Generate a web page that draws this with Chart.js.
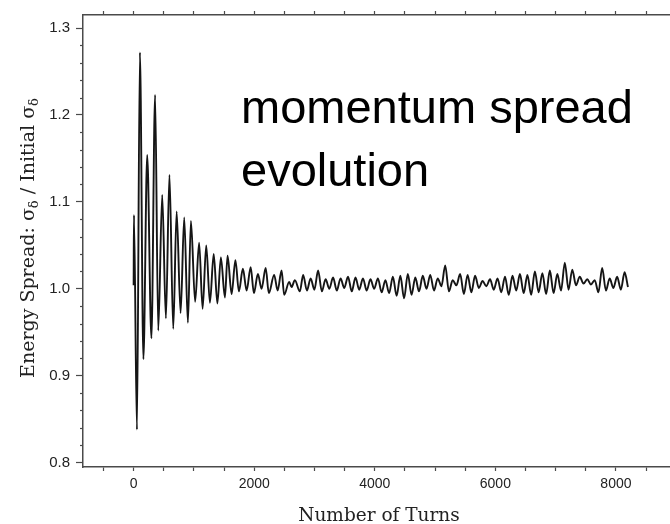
<!DOCTYPE html>
<html>
<head>
<meta charset="utf-8">
<script src="https://cdn.jsdelivr.net/npm/chart.js@4.4.1/dist/chart.umd.min.js"></script>
<style>
  html, body { margin: 0; padding: 0; background: #fff; overflow: hidden; }
  #wrap { width: 680px; height: 524px; position: relative; }
</style>
</head>
<body>
<div id="wrap"><canvas id="myChart"></canvas></div>
<script>
// values (turns, spread ratio)
var turns = [0, 5, 55, 104, 162, 225, 295, 356, 408, 474, 535, 594, 657, 713, 779, 839, 900, 950, 1020,
  1086, 1144, 1204, 1265, 1328, 1389, 1447, 1514, 1558, 1625, 1688, 1746, 1812, 1874, 1941, 1995,
  2061, 2122, 2190, 2243, 2331, 2388, 2454, 2497, 2580, 2620, 2674, 2757, 2812,
  2874, 2936, 2998, 3060, 3122, 3184, 3246, 3308, 3370, 3432, 3494, 3556, 3618, 3680, 3742, 3804,
  3866, 3928, 3990, 4052, 4114, 4176, 4238, 4300, 4362, 4424, 4486, 4548, 4610, 4672, 4734, 4796,
  4858, 4920, 4982, 5044, 5106, 5168, 5230, 5292, 5354, 5416, 5478, 5540, 5602, 5664, 5726, 5788,
  5850, 5912, 5974, 6036, 6098, 6160, 6222, 6284, 6346, 6408, 6470, 6532, 6594, 6656, 6718, 6780,
  6842, 6904, 6966, 7028, 7090, 7152, 7214, 7276, 7338, 7400, 7462, 7524, 7586, 7648, 7710, 7772,
  7834, 7896, 7958, 8020, 8082, 8144, 8200]
var spread = [1.004, 1.085, 0.838, 1.272, 0.919, 1.154, 0.943, 1.223, 0.952, 1.108, 0.966, 1.131, 0.954, 1.089, 0.972, 1.082, 0.961, 1.078, 0.985,
  1.053, 0.977, 1.050, 0.984, 1.040, 0.983, 1.036, 0.990, 1.038, 0.994, 1.033, 0.997, 1.023, 0.998, 1.025, 0.995,
  1.017, 1.000, 1.024, 0.995, 1.016, 0.998, 1.021, 0.993, 1.008, 1.002, 1.010, 0.997, 1.016,
  0.998, 1.012, 0.999, 1.021, 0.997, 1.011, 1.000, 1.013, 0.998, 1.012, 1.001, 1.014, 0.997, 1.013, 0.999, 1.012,
  0.998, 1.011, 1.000, 1.012, 0.996, 1.010, 0.995, 1.014, 0.992, 1.015, 0.989, 1.017, 0.993, 1.013, 0.997, 1.015,
  1.000, 1.016, 0.998, 1.012, 1.003, 1.027, 0.997, 1.010, 1.004, 1.017, 0.994, 1.016, 0.996, 1.015, 1.001, 1.009,
  1.003, 1.011, 0.999, 1.012, 0.996, 1.014, 0.993, 1.015, 0.998, 1.017, 0.995, 1.016, 0.993, 1.020, 0.996, 1.018,
  0.994, 1.021, 0.995, 1.017, 0.998, 1.030, 0.999, 1.022, 1.004, 1.014, 1.006, 1.011, 1.005, 1.010, 0.996, 1.024,
  0.998, 1.012, 1.001, 1.014, 0.999, 1.019, 1.002]

var xTickLabels = [0, 2000, 4000, 6000, 8000]
var yTickLabels = [0.8, 0.9, 1.0, 1.1, 1.2, 1.3]
var noteLines = ['momentum spread', 'evolution']

var axisColor = '#4a4a4a'
var textColor = '#222'

var points = []
for (var i = 0; i < turns.length; i++) {
    points.push({x: turns[i], y: spread[i]})
}

// x ticks every 500 turns, labels only on the listed values
function xTicks(scale) {
    var t = []
    for (var v = -500; v <= 8500; v += 500) t.push({value: v})
    scale.ticks = t
}

var xScaleBase = {
    type: 'linear',
    min: -840,
    max: 8980,
    afterBuildTicks: xTicks,
    grid: {drawOnChartArea: false, drawTicks: true, tickLength: 4, color: axisColor, tickWidth: 1.2},
    border: {display: true, color: axisColor, width: 1.5}
}

var extras = {
    id: 'extras',
    afterDraw: function(chart) {
        var ctx = chart.ctx
        var y = chart.scales.y
        var area = chart.chartArea
        ctx.save()
        // minor y ticks
        ctx.strokeStyle = axisColor
        ctx.lineWidth = 1.2
        for (var k = 0; k <= 25; k++) {
            if (k % 5 === 0) continue
            var py = Math.round(y.getPixelForValue(0.8 + k * 0.02)) + 0.5
            ctx.beginPath()
            ctx.moveTo(area.left - 3, py)
            ctx.lineTo(area.left, py)
            ctx.stroke()
        }
        // x title
        ctx.fillStyle = textColor
        ctx.font = '18.5px "DejaVu Serif"'
        ctx.textAlign = 'center'
        ctx.textBaseline = 'alphabetic'
        ctx.fillText('Number of Turns', 379, 521)
        // y title with subscripts
        var parts = [
            ['Energy Spread: \u03C3', 0], ['\u03B4', 1], [' / Initial \u03C3', 0], ['\u03B4', 1]
        ]
        var big = '19px "DejaVu Serif"', small = '13px "DejaVu Serif"'
        var total = 0
        parts.forEach(function(p) { ctx.font = p[1] ? small : big; total += ctx.measureText(p[0]).width })
        ctx.translate(34, 238)
        ctx.rotate(-Math.PI / 2)
        ctx.textAlign = 'left'
        var cx = -total / 2
        parts.forEach(function(p) {
            ctx.font = p[1] ? small : big
            ctx.fillText(p[0], cx, p[1] ? 4 : 0)
            cx += ctx.measureText(p[0]).width
        })
        ctx.restore()
        // annotation
        ctx.save()
        ctx.fillStyle = '#000'
        ctx.font = '47px "Liberation Sans", Arial, sans-serif'
        ctx.textAlign = 'left'
        ctx.textBaseline = 'alphabetic'
        ctx.fillText(noteLines[0], 241, 123)
        ctx.fillText(noteLines[1], 241, 186)
        ctx.restore()
    }
}

var ctx = document.getElementById('myChart').getContext('2d')
var chart = new Chart(ctx, {
    type: 'line',
    data: {
        datasets: [{
            data: points,
            borderColor: '#151515',
            borderWidth: 1.9,
            pointRadius: 0,
            cubicInterpolationMode: 'monotone',
            fill: false
        }]
    },
    options: {
        responsive: true,
        maintainAspectRatio: false,
        animation: false,
        events: [],
        layout: {padding: {left: 0, right: 5, top: 0, bottom: 0}},
        plugins: {legend: {display: false}, tooltip: {enabled: false}},
        scales: {
            x: Object.assign({}, xScaleBase, {
                position: 'bottom',
                afterFit: function(s) { s.height = 57 },
                ticks: {
                    autoSkip: false, maxRotation: 0, padding: 5, color: textColor,
                    font: {family: '"Liberation Sans", Arial, sans-serif', size: 14},
                    callback: function(v) { return xTickLabels.indexOf(v) >= 0 ? String(v) : '' }
                }
            }),
            x2: Object.assign({}, xScaleBase, {
                position: 'top',
                afterFit: function(s) { s.height = 10 },
                ticks: {display: false}
            }),
            y: {
                type: 'linear',
                min: 0.795,
                max: 1.315,
                afterBuildTicks: function(scale) {
                    scale.ticks = yTickLabels.map(function(v) { return {value: v} })
                },
                afterFit: function(s) { s.width = 83 },
                grid: {drawOnChartArea: false, drawTicks: true, tickLength: 7, color: axisColor, tickWidth: 1.2},
                border: {display: true, color: axisColor, width: 1.5},
                ticks: {
                    padding: 6, color: textColor,
                    font: {family: '"Liberation Sans", Arial, sans-serif', size: 15},
                    callback: function(v) { return v.toFixed(1) }
                }
            }
        }
    },
    plugins: [extras]
})
</script>
</body>
</html>
